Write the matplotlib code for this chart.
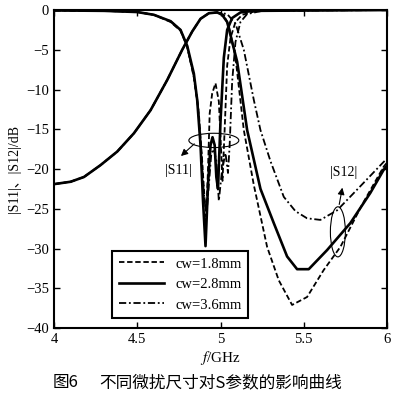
import numpy as np
import matplotlib
matplotlib.use("Agg")
from matplotlib import pyplot as plt
from matplotlib.patches import Ellipse

plt.rcParams['font.family'] = ['Liberation Serif', 'Noto Sans CJK SC']
plt.rcParams['mathtext.fontset'] = 'stix'

# 数据
labels = ["cw=1.8mm", "cw=2.8mm", "cw=3.6mm"]

# |S11|
s11_f_18 = [4.0, 4.3, 4.5, 4.6, 4.7, 4.76, 4.8, 4.84, 4.87, 4.89, 4.905, 4.915, 4.925, 4.935,
            4.95, 4.97, 4.99, 5.0, 5.012, 5.025, 5.04, 5.06, 5.09, 5.13, 5.2, 5.3, 6.0]
s11_db_18 = [-0.05, -0.1, -0.25, -0.6, -1.5, -2.6, -4.6, -8.5, -13, -19, -24, -25.5, -20, -13,
             -10.5, -9.2, -11.5, -16, -21.5, -15, -7, -3.5, -1.5, -0.6, -0.2, -0.05, 0]
s11_f_28 = [4.0, 4.3, 4.5, 4.6, 4.7, 4.76, 4.8, 4.84, 4.86, 4.88, 4.895, 4.91, 4.925, 4.94,
            4.952, 4.965, 4.975, 4.985, 5.0, 5.02, 5.04, 5.07, 5.12, 5.2, 6.0]
s11_db_28 = [-0.05, -0.1, -0.25, -0.6, -1.4, -2.5, -4.5, -8, -11.3, -17, -24, -29.7, -22, -17,
             -16, -17, -21, -22.5, -14, -6, -2.5, -1, -0.3, -0.1, 0]
s11_f_36 = [4.0, 4.3, 4.5, 4.6, 4.7, 4.76, 4.8, 4.84, 4.865, 4.885, 4.9, 4.915, 4.93, 4.945,
            4.96, 4.975, 4.99, 5.01, 5.03, 5.045, 5.055, 5.07, 5.09, 5.12, 5.16, 5.25, 6.0]
s11_db_36 = [-0.05, -0.1, -0.25, -0.6, -1.4, -2.5, -4.6, -8.3, -12, -18, -23, -26, -22, -18,
             -17.5, -19, -24, -20, -18, -20.5, -17, -9, -4, -1.5, -0.5, -0.1, 0]

# |S12| 左侧三条曲线重合
s12_f_left = [4.0, 4.1, 4.18, 4.28, 4.38, 4.48, 4.58, 4.68, 4.77, 4.83, 4.88, 4.93, 4.98]
s12_db_left = [-21.9, -21.6, -21.0, -19.5, -17.8, -15.5, -12.6, -8.8, -5.0, -2.7, -1.1, -0.4, -0.3]
s12_f_18 = [5.02, 5.05, 5.09, 5.14, 5.2, 5.28, 5.35, 5.43, 5.52, 5.62, 5.72, 5.85, 5.98, 6.0]
s12_db_18 = [-0.6, -2, -6, -15.1, -22, -29.8, -34, -37.1, -36.1, -32.7, -29.8, -24.5, -19.7, -19.2]
s12_f_28 = [5.01, 5.04, 5.1, 5.16, 5.24, 5.32, 5.4, 5.46, 5.53, 5.64, 5.78, 5.9, 5.98, 6.0]
s12_db_28 = [-0.6, -1.5, -6.5, -15.1, -22.5, -26.8, -31, -32.6, -32.6, -30.2, -26.8, -23, -20.1, -19.6]
s12_f_36 = [5.04, 5.09, 5.14, 5.2, 5.24, 5.3, 5.38, 5.45, 5.52, 5.6, 5.7, 5.82, 5.98, 6.0]
s12_db_36 = [-0.5, -1.7, -5, -11.3, -15.1, -19, -23.5, -25.3, -26.2, -26.4, -25.2, -22.6, -19.1, -18.7]

xticks = [4, 4.5, 5, 5.5, 6]
xtick_labels = ["4", "4.5", "5", "5.5", "6"]
yticks = [0, -5, -10, -15, -20, -25, -30, -35, -40]

styles = [dict(ls=(0, (3, 1.5)), lw=1.3),
          dict(ls='-', lw=1.9),
          dict(ls=(0, (4, 1.5, 1, 1.5)), lw=1.3)]

fig = plt.figure(figsize=(4.0, 3.94), dpi=100)
ax = fig.add_axes([0.135, 0.1675, 0.8325, 0.807])

s11_all = [(s11_f_18, s11_db_18), (s11_f_28, s11_db_28), (s11_f_36, s11_db_36)]
s12_all = [(s12_f_18, s12_db_18), (s12_f_28, s12_db_28), (s12_f_36, s12_db_36)]

for (f1, d1), (f2, d2), st, lab in zip(s11_all, s12_all, styles, labels):
    ax.plot(f1, d1, color='k', **st, label=lab)
    ax.plot(s12_f_left + f2, s12_db_left + d2, color='k', **st)

ax.set_xlim(4, 6)
ax.set_ylim(-40, 0)
ax.set_xticks(xticks)
ax.set_xticklabels(xtick_labels)
ax.set_yticks(yticks)
ax.tick_params(direction='in', top=True, right=True, labelsize=10.5, length=4, width=1)
for sp in ax.spines.values():
    sp.set_linewidth(1.5)

ax.set_xlabel(r"$f$/GHz", fontsize=11, labelpad=2)
ax.set_ylabel("|S11|、|S12|/dB", fontsize=10, labelpad=4)

# 椭圆和箭头标注
ax.add_patch(Ellipse((4.96, -16.4), 0.30, 1.8, fill=False, lw=0.8, ec='k'))
ax.annotate("", xy=(4.75, -18.6), xytext=(4.855, -16.6),
            arrowprops=dict(arrowstyle='-|>', color='k', lw=0.8, mutation_scale=10))
ax.text(4.75, -20.2, "|S11|", ha='center', va='center', fontsize=10)

ax.add_patch(Ellipse((5.705, -27.9), 0.09, 6.3, fill=False, lw=0.8, ec='k'))
ax.annotate("", xy=(5.735, -22.0), xytext=(5.71, -24.8),
            arrowprops=dict(arrowstyle='-|>', color='k', lw=0.8, mutation_scale=10))
ax.text(5.74, -20.4, "|S12|", ha='center', va='center', fontsize=10)

leg = ax.legend(loc='lower left', bbox_to_anchor=(0.174, 0.031), borderaxespad=0,
                fontsize=10.5, handlelength=3.1, handletextpad=0.8, labelspacing=0.5,
                fancybox=False, framealpha=1, edgecolor='k', borderpad=0.45)
leg.get_frame().set_linewidth(1.5)

cjk = ['Noto Sans CJK SC', 'DejaVu Sans']
fig.text(53 / 400, 1 - 383 / 394, "图6", ha='left', va='center', fontsize=12, family=cjk)
fig.text(99 / 400, 1 - 383 / 394, "不同微扰尺寸对S参数的影响曲线", ha='left', va='center',
         fontsize=12, family=cjk)

plt.savefig("out.png", dpi=100)
